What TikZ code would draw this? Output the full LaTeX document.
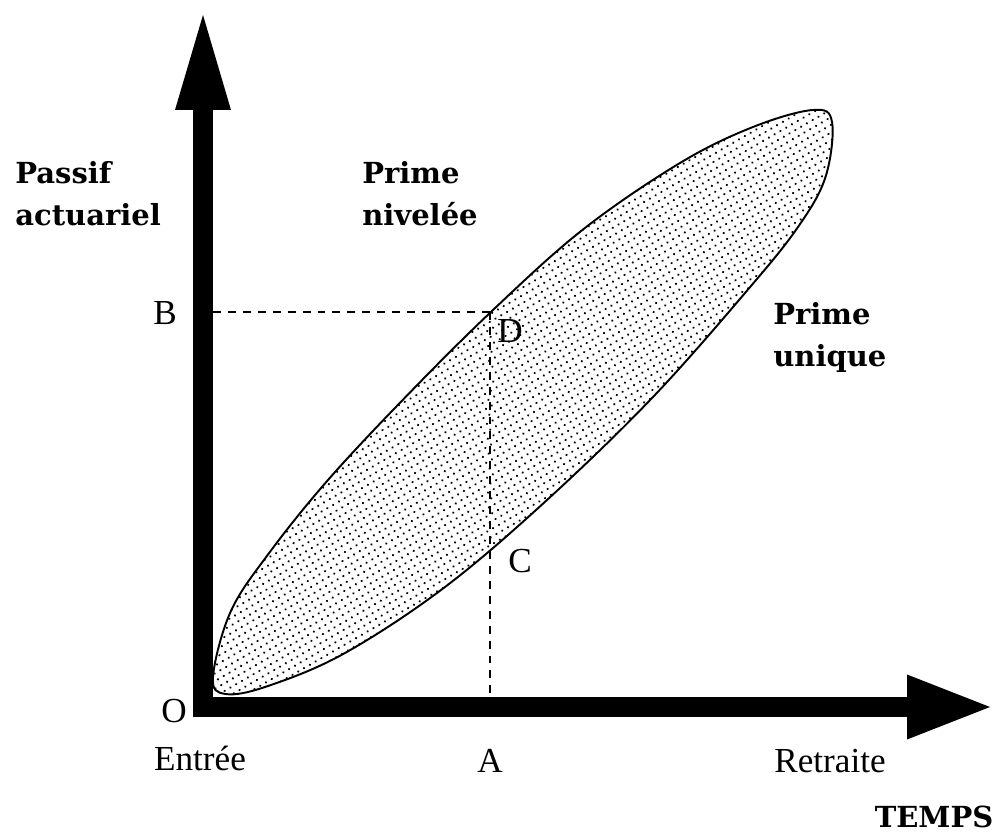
\documentclass[tikz,border=0pt]{standalone}
\usepackage{fontspec}
\setmainfont{Liberation Serif}
\newfontfamily\slabfont{DejaVu Serif}
\usetikzlibrary{arrows.meta, patterns.meta}

\begin{document}
\begin{tikzpicture}[
    axis/.style={line width=0.4cm, line join=miter, black},
    guide/.style={line width=1.1pt, dash pattern=on 4.5pt off 4pt},
    lens/.style={line width=1.1pt, pattern={Dots[distance=3.8pt, radius=0.7pt, angle=30]}},
    pointlab/.style={font=\fontsize{20}{24}\selectfont, inner sep=0pt, anchor=base},
    zonelab/.style={font=\slabfont\bfseries\fontsize{16.5}{24}\selectfont, inner sep=0pt,
                    align=left, anchor=north west}
]
\useasboundingbox (-4.06,-2.58) rectangle (15.78,14.14);

% Points
\coordinate (O) at (0,0);
\coordinate (ytip) at (0,13.84);
\coordinate (xtip) at (15.74,0);
\coordinate (D) at (5.74,7.9);
\coordinate (C) at (5.74,3.18);
\coordinate (Bax) at (0.2,7.9);
\coordinate (Aax) at (5.74,0.2);

% Zone
\draw[lens] plot[smooth cycle, tension=0.6] coordinates {
    (0.2,0.6) (0.55,1.9) (1.3,3.05) (2.5,4.54) (4.1,6.25) (5.8,7.94)
    (7.6,9.55) (9.54,10.88) (11.0,11.6) (12.2,11.94) (12.58,11.7)
    (12.45,10.6) (11.9,9.6) (10.9,8.35) (9.0,6.2) (6.88,4.14)
    (4.84,2.4) (2.84,1.08) (1.3,0.42) (0.45,0.26)};

% Guides
\draw[guide] (Bax) -- (D);
\draw[guide] (D) -- (C) -- (Aax);

% Axes
\draw[axis, {Triangle[length=1.9cm, width=1.12cm, line width=0pt]}-{Triangle[length=1.66cm, width=1.3cm, line width=0pt]}]
    (ytip) -- (O) -- (xtip);

% Labels
\node[pointlab] (labO) at (-0.58,-0.32) {O};
\node[pointlab] (labA) at (5.74,-1.3) {A};
\node[pointlab] (labB) at (-0.76,7.64) {B};
\node[pointlab] (labC) at (6.34,2.68) {C};
\node[pointlab] (labD) at (6.14,7.28) {D};
\node[pointlab] (entree) at (-0.06,-1.26) {Entrée};
\node[pointlab] (retraite) at (12.54,-1.3) {Retraite};
\node[zonelab, anchor=base] (temps) at (14.62,-2.4) {TEMPS};
\node[zonelab] (passif) at (-3.76,10.92) {Passif\\actuariel};
\node[zonelab] (nivelee) at (3.18,10.92) {Prime\\nivelée};
\node[zonelab] (unique) at (11.4,8.1) {Prime\\unique};

\end{tikzpicture}
\end{document}
